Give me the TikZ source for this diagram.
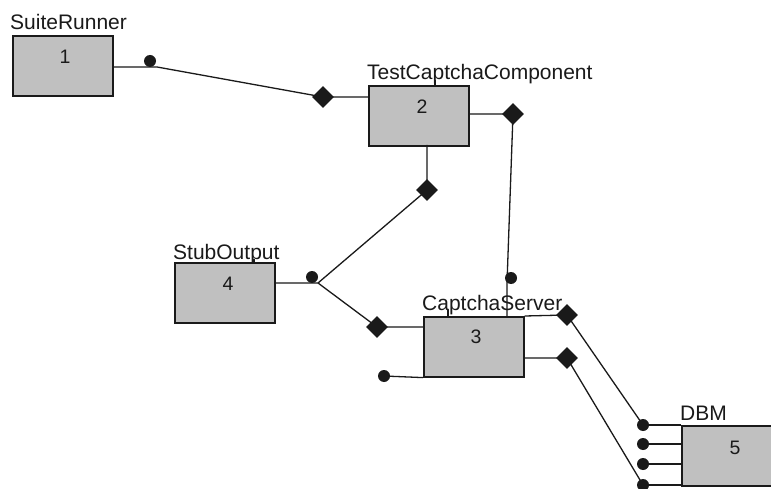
\documentclass[tikz,border=0pt]{standalone}
\usepackage{fontspec}
\setmainfont{Liberation Sans}
\usetikzlibrary{shapes.geometric}
\definecolor{boxgray}{HTML}{C0C0C0}
\definecolor{ink}{HTML}{1A1A1A}
\tikzset{
  comp/.style={draw=ink, line width=1.6pt, fill=boxgray, minimum width=100pt,
    minimum height=60pt, inner sep=0pt, anchor=north west},
  compname/.style={anchor=base west, inner sep=0pt, text=ink,
    font=\fontsize{21}{24}\selectfont},
  compnum/.style={inner sep=0pt, text=ink, font=\fontsize{19.5}{22}\selectfont},
  wire/.style={draw=ink, line width=1.3pt},
  portdot/.style={circle, fill=ink, inner sep=0pt, minimum size=12pt},
  portdia/.style={diamond, fill=ink, inner sep=0pt, minimum width=22pt, minimum height=22pt},
}
\begin{document}
\begin{tikzpicture}[x=1pt,y=-1pt]
\useasboundingbox (0,0) rectangle (771,489);
\clip (0,0) rectangle (771,489);
\fill[white] (0,0) rectangle (771,489);

% ---- components ----
\node[comp] (c1) at (12,35) {};
\node[comp] (c2) at (368,85) {};
\node[comp] (c4) at (174,262) {};
\node[comp] (c3) at (423,316) {};
\node[comp, minimum width=120pt] (c5) at (681,425) {};

% names above the boxes
\node[compname] (t1) at ([shift={(-2,-5)}]c1.north west) {SuiteRunner};
\node[compname] (t2) at ([shift={(-1,-5)}]c2.north west) {TestCaptchaComponent};
\node[compname] (t4) at ([shift={(-1,-3)}]c4.north west) {StubOutput};
\node[compname] (t3) at ([shift={(-1,-6)}]c3.north west) {CaptchaServer};
\node[compname] (t5) at ([shift={(-1,-5)}]c5.north west) {DBM};

% numbers inside the boxes
\node[compnum] (n1) at ([shift={(53,22)}]c1.north west) {1};
\node[compnum] (n2) at ([shift={(54,22)}]c2.north west) {2};
\node[compnum] (n4) at ([shift={(54,22)}]c4.north west) {4};
\node[compnum] (n3) at ([shift={(53,21)}]c3.north west) {3};
\node[compnum] (n5) at ([shift={(54,23)}]c5.north west) {5};

% short ticks between names and boxes
\coordinate (k2) at (435,85);
\coordinate (k4) at (254,262);
\coordinate (k3) at (448,316);
\draw[wire] (k2) -- ++(0,-5);
\draw[wire] (k4) -- ++(0,-3);
\draw[wire] (k3) -- ++(0,-6);

% ---- 1 -> 2 ----
\coordinate (p1) at (112,67);
\coordinate (j1) at (157,67);
\node[portdot] (d1) at (150,61) {};
\node[portdia] (m1) at (323,97) {};
\draw[wire] (p1) -- (j1) -- (m1.center) -- (m1.center -| c2.west);

% ---- 2 -> 3 ----
\coordinate (p2r) at (468,114);
\coordinate (j2) at (507,283);
\node[portdia] (m2) at (513,114) {};
\node[portdot] (d2) at (511,278) {};
\draw[wire] (p2r) -- (m2.center) -- (j2) -- (j2 |- c3.north);

% ---- 2 -> 4 and 4 -> 3 ----
\coordinate (p2b) at (427,145);
\coordinate (j4) at (318,283);
\node[portdia] (m3) at (427,190) {};
\node[portdot] (d4) at (312,277) {};
\node[portdia] (m4) at (377,327) {};
\draw[wire] (p2b) -- (m3.center) -- (j4);
\draw[wire] (c4.east |- j4) -- (j4) -- (m4.center) -- (m4.center -| c3.west);

% ---- free port of 3 ----
\node[portdot] (d5) at (384,376) {};
\draw[wire] (d5.center) -- (c3.south west);

% ---- 3 -> 5 ----
\node[portdia] (m5) at (567,315) {};
\node[portdia] (m6) at (567,358) {};
\node[portdot] (d6) at (643,425) {};
\node[portdot] (d7) at (643,444) {};
\node[portdot] (d8) at (643,464) {};
\node[portdot] (d9) at (643,485) {};
\draw[wire] (c3.north east) -- (m5.center) -- (d6.center);
\draw[wire] (c3.east |- m6) -- (m6.center) -- (d9.center);
\draw[wire] (d6.center) -- (d6.center -| c5.west);
\draw[wire] (d7.center) -- (d7.center -| c5.west);
\draw[wire] (d8.center) -- (d8.center -| c5.west);
\draw[wire] (d9.center) -- (d9.center -| c5.west);
\end{tikzpicture}
\end{document}
